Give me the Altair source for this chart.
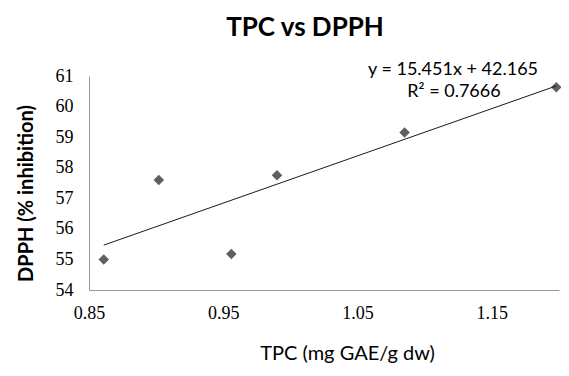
import altair as alt
import pandas as pd

# Data
tpc = [0.861, 0.902, 0.956, 0.990, 1.085, 1.198]
dpph = [55.00, 57.60, 55.18, 57.75, 59.15, 60.63]

slope = 15.451
intercept = 42.165
r2 = 0.7666
eq_lines = ["y = 15.451x + 42.165", "R² = 0.7666"]
chart_title = ["TPC vs DPPH"]

x_ticks = [0.85, 0.95, 1.05, 1.15]
y_ticks = [54, 55, 56, 57, 58, 59, 60, 61]

pts = pd.DataFrame({"TPC": tpc, "DPPH": dpph})
x_ends = [min(tpc), max(tpc)]
trend = pd.DataFrame({"TPC": x_ends, "DPPH": [slope * v + intercept for v in x_ends]})
eq = pd.DataFrame({"label": eq_lines, "row": [0, 1]})
ttl = pd.DataFrame({"label": chart_title})

x_scale = alt.Scale(domain=[0.85, 1.2], nice=False, zero=False)
y_scale = alt.Scale(domain=[54, 61], nice=False, zero=False)

x_axis = alt.Axis(
    title="TPC (mg GAE/g dw)",
    values=x_ticks,
    format=".2f",
    labelFont="Liberation Serif",
    labelFontSize=18,
    labelColor="#000000",
    labelPadding=14,
    labelFlush=False,
    labelOverlap=False,
    titleFont="Lato",
    titleFontSize=20,
    titleFontWeight="normal",
    titleColor="#000000",
    titleX=258,
    titleY=63,
    titleBaseline="middle",
    titleAlign="center",
)
y_axis = alt.Axis(
    title="DPPH (% inhibition)",
    values=y_ticks,
    format="d",
    labelFont="Liberation Serif",
    labelFontSize=18,
    labelColor="#000000",
    labelPadding=16,
    labelFlush=False,
    labelOverlap=False,
    labelSeparation=0,
    titleFont="Lato",
    titleFontSize=20,
    titleFontWeight="bold",
    titleColor="#000000",
    titleAngle=270,
    titleX=-63,
    titleY=117,
    titleBaseline="middle",
    titleAlign="center",
)

points = alt.Chart(pts).mark_point(
    shape="diamond", filled=True, size=110, color="#5f5f5f", opacity=1
).encode(
    x=alt.X("TPC:Q", scale=x_scale, axis=x_axis),
    y=alt.Y("DPPH:Q", scale=y_scale, axis=y_axis),
)

line = alt.Chart(trend).mark_line(color="#1a1a1a", strokeWidth=1).encode(
    x=alt.X("TPC:Q", scale=x_scale, axis=x_axis),
    y=alt.Y("DPPH:Q", scale=y_scale, axis=y_axis),
)

eq_base = alt.Chart(eq).mark_text(
    font="Lato", fontSize=18, color="#000000", align="center", baseline="middle"
)
eq_line1 = eq_base.transform_filter("datum.row == 0").encode(
    text="label:N", x=alt.value(364), y=alt.value(-6)
)
eq_line2 = eq_base.transform_filter("datum.row == 1").encode(
    text="label:N", x=alt.value(365), y=alt.value(16)
)

title_text = alt.Chart(ttl).mark_text(
    font="Lato", fontSize=26, fontWeight="bold", color="#000000",
    align="center", baseline="alphabetic"
).encode(text="label:N", x=alt.value(216), y=alt.value(-40))

chart = (
    alt.layer(points, line, eq_line1, eq_line2, title_text)
    .properties(
        width=470,
        height=214,
        autosize=alt.AutoSizeParams(type="none"),
        padding={"left": 81, "top": 68, "right": 2, "bottom": 78},
    )
    .configure_view(stroke=None)
    .configure_axis(grid=False, ticks=False, labelOverlap=False,
                    domainColor="#9a9a9a", domainWidth=1)
)

chart.save("out.html", embed_options={"renderer": "svg", "actions": False})
